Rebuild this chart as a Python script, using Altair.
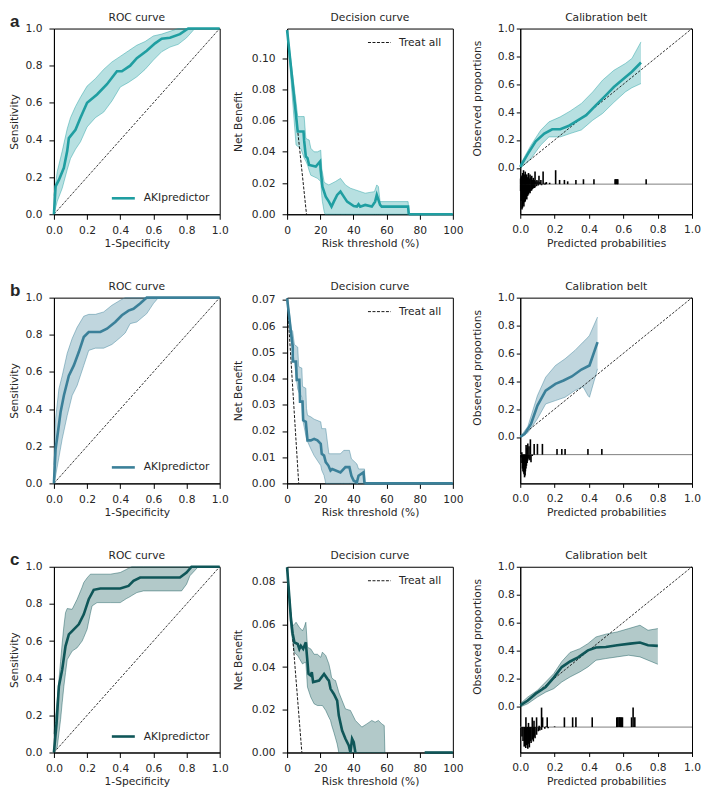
import altair as alt
import pandas as pd

FONT = "DejaVu Sans"
TXT = "#262626"
FS = 10.7

COLORS = {"a": "#1f9ea1", "b": "#3b8099", "c": "#0f5658"}

TICKS01 = [0, 0.2, 0.4, 0.6, 0.8, 1.0]
DCA_X_TICKS = [0, 20, 40, 60, 80, 100]

W_ROC, W_DCA, W_CAL, H = 166, 166, 172, 186

# ---------------- Row a ----------------
roc_a_x = [0, 0.01, 0.03, 0.06, 0.08, 0.09, 0.13, 0.16, 0.2, 0.26, 0.32, 0.38, 0.41, 0.46, 0.5, 0.56, 0.61, 0.65, 0.7, 0.76, 0.81, 1.0]
roc_a_y = [0, 0.15, 0.185, 0.25, 0.34, 0.41, 0.455, 0.52, 0.6, 0.645, 0.70, 0.77, 0.77, 0.80, 0.84, 0.88, 0.92, 0.945, 0.95, 0.97, 1.0, 1.0]
roc_a_bx = [0, 0.02, 0.05, 0.08, 0.1, 0.13, 0.16, 0.2, 0.25, 0.3, 0.35, 0.4, 0.45, 0.5, 0.55, 0.6, 0.65, 0.7, 0.75, 0.8, 0.85, 1.0]
roc_a_hi = [0.1, 0.23, 0.34, 0.46, 0.52, 0.58, 0.63, 0.69, 0.73, 0.78, 0.82, 0.85, 0.88, 0.91, 0.93, 0.96, 0.97, 0.985, 1.0, 1.0, 1.0, 1.0]
roc_a_lo = [0, 0.07, 0.14, 0.24, 0.30, 0.35, 0.39, 0.47, 0.52, 0.55, 0.61, 0.685, 0.71, 0.74, 0.78, 0.83, 0.875, 0.90, 0.915, 0.95, 1.0, 1.0]

dca_a_x = [0, 6.4, 9.9, 10.3, 11.3, 12.3, 13.3, 17.3, 19.9, 20.3, 21.3, 23.3, 25.2, 26.8, 28.2, 30.2, 32.2, 34.2, 36.2, 40.2, 42.1, 43.1, 44.1, 47.1, 51.1, 53.1, 54.1, 56.1, 57.1, 73.0, 73.4]
dca_a_y = [0.118, 0.053, 0.053, 0.047, 0.037, 0.036, 0.0316, 0.0306, 0.0338, 0.028, 0.0177, 0.0113, 0.0081, 0.0049, 0.0081, 0.0124, 0.0145, 0.0113, 0.0081, 0.0053, 0.0049, 0.0064, 0.0049, 0.006, 0.0049, 0.0081, 0.0124, 0.006, 0.0049, 0.0049, 0.0]
dca_a_tail_x = [73.4, 100]
dca_a_bx = [0, 5.4, 6.4, 8.3, 10.3, 11.3, 12.3, 13.3, 14.3, 16.3, 18.3, 20.3, 20.9, 21.3, 22.3, 22.9, 25.2, 29.2, 32.2, 35.2, 38.2, 47.1, 52.7, 54.1, 55.1, 56.1, 73.0, 73.6]
dca_a_hi = [0.118, 0.072, 0.0626, 0.0626, 0.0626, 0.0487, 0.048, 0.0476, 0.0423, 0.040, 0.040, 0.041, 0.0295, 0.027, 0.021, 0.020, 0.0188, 0.021, 0.023, 0.0188, 0.0167, 0.0135, 0.0145, 0.0188, 0.0177, 0.0081, 0.0081, 0.0]
dca_a_lo = [0.118, 0.0444, 0.0435, 0.042, 0.036, 0.034, 0.0316, 0.028, 0.025, 0.024, 0.023, 0.021, 0.012, 0.0081, 0.002, 0.0, 0.0, 0.0, 0.0, 0.0, 0.0, 0.0, 0.0, 0.0, 0.0, 0.0, 0.0, 0.0]
dca_a_treat_x = [0, 11.7]
dca_a_treat_y = [0.118, 0.0]
dca_a_ydom = [0, 0.119]
dca_a_yticks = [0, 0.02, 0.04, 0.06, 0.08, 0.10]

cal_a_x = [0, 0.044, 0.09, 0.14, 0.186, 0.233, 0.28, 0.337, 0.384, 0.441, 0.498, 0.545, 0.593, 0.65, 0.703]
cal_a_y = [0.007, 0.10, 0.19, 0.246, 0.277, 0.277, 0.30, 0.342, 0.378, 0.45, 0.52, 0.58, 0.63, 0.69, 0.756]
cal_a_bx = [0, 0.0625, 0.119, 0.167, 0.233, 0.29, 0.356, 0.422, 0.479, 0.545, 0.612, 0.65, 0.703]
cal_a_hi = [0.024, 0.163, 0.27, 0.33, 0.366, 0.407, 0.462, 0.545, 0.629, 0.70, 0.749, 0.785, 0.904]
cal_a_lo = [-0.005, 0.067, 0.163, 0.222, 0.222, 0.246, 0.272, 0.342, 0.39, 0.47, 0.545, 0.575, 0.605]
cal_a_base = -0.117
cal_a_hist_x = [0.002, 0.006, 0.0095, 0.014, 0.019, 0.024, 0.029, 0.033, 0.038, 0.043, 0.048, 0.052, 0.057, 0.062, 0.067, 0.071, 0.076, 0.081, 0.086, 0.091, 0.097, 0.103, 0.109, 0.115, 0.12, 0.133, 0.145, 0.152, 0.171, 0.206, 0.229, 0.257, 0.276, 0.324, 0.368, 0.429, 0.552, 0.556, 0.56, 0.564, 0.568, 0.733,
                0.002, 0.006, 0.01, 0.013, 0.017, 0.021, 0.025, 0.029, 0.033, 0.038, 0.043, 0.048, 0.052, 0.057, 0.062, 0.067, 0.071, 0.076, 0.081, 0.086, 0.095, 0.105, 0.124, 0.143]
cal_a_hist_h = [0.04, 0.05, 0.062, 0.08, 0.10, 0.07, 0.09, 0.06, 0.07, 0.05, 0.08, 0.04, 0.07, 0.05, 0.06, 0.03, 0.045, 0.03, 0.09, 0.02, 0.03, 0.02, 0.06, 0.015, 0.03, 0.09, 0.01, 0.015, 0.01, 0.10, 0.03, 0.03, 0.02, 0.03, 0.035, 0.035, 0.035, 0.035, 0.035, 0.035, 0.035, 0.035,
                -0.05, -0.12, -0.183, -0.17, -0.14, -0.16, -0.13, -0.125, -0.09, -0.11, -0.085, -0.075, -0.06, -0.065, -0.05, -0.045, -0.035, -0.03, -0.028, -0.025, -0.015, -0.01, -0.008, -0.005]

# ---------------- Row b ----------------
roc_b_x = [0, 0.01, 0.024, 0.04, 0.06, 0.09, 0.12, 0.15, 0.18, 0.21, 0.28, 0.32, 0.37, 0.41, 0.45, 0.48, 0.52, 0.56, 1.0]
roc_b_y = [0, 0.185, 0.275, 0.383, 0.473, 0.58, 0.635, 0.707, 0.788, 0.815, 0.815, 0.833, 0.869, 0.905, 0.93, 0.94, 0.968, 1.0, 1.0]
roc_b_bx = [0, 0.01, 0.03, 0.05, 0.08, 0.11, 0.14, 0.18, 0.21, 0.25, 0.30, 0.35, 0.40, 0.43, 0.46, 0.50, 0.56, 0.60, 0.63, 0.7, 1.0]
roc_b_hi = [0.1, 0.347, 0.509, 0.58, 0.70, 0.78, 0.84, 0.90, 0.91, 0.91, 0.923, 0.959, 0.986, 1.0, 1.0, 1.0, 1.0, 1.0, 1.0, 1.0, 1.0]
roc_b_lo = [0, 0.04, 0.14, 0.24, 0.365, 0.473, 0.527, 0.635, 0.716, 0.728, 0.728, 0.748, 0.785, 0.81, 0.86, 0.869, 0.914, 0.968, 1.0, 1.0, 1.0]

dca_b_x = [0, 2.4, 3.4, 3.4, 5.4, 5.8, 7.4, 7.8, 9.3, 9.7, 11.3, 12.3, 14.3, 16.3, 18.3, 20.3, 20.9, 22.3, 23.3, 24.9, 26.2, 27.2, 32.2, 35.2, 37.6, 38.8, 40.2, 42.1, 43.1, 46.1, 46.7]
dca_b_y = [0.0706, 0.0574, 0.0523, 0.0465, 0.0465, 0.0395, 0.0395, 0.0312, 0.0312, 0.0241, 0.0235, 0.0164, 0.0164, 0.017, 0.0164, 0.0151, 0.0113, 0.0106, 0.0081, 0.0068, 0.0049, 0.0055, 0.0042, 0.0062, 0.0062, 0.0029, 0.001, 0.0004, 0.0029, 0.0042, 0.0]
dca_b_tail_x = [46.7, 100]
dca_b_bx = [0, 1.4, 2.4, 3.4, 4.4, 5.4, 6.4, 7.0, 7.8, 8.9, 9.3, 11.3, 11.7, 12.3, 14.3, 16.3, 20.3, 20.9, 22.3, 23.3, 25.2, 32.2, 34.2, 37.6, 38.8, 42.1, 43.1, 46.7, 47.1]
dca_b_hi = [0.0706, 0.065, 0.059, 0.058, 0.053, 0.0525, 0.052, 0.0446, 0.0443, 0.044, 0.037, 0.0363, 0.0286, 0.026, 0.0254, 0.0245, 0.0235, 0.0209, 0.0209, 0.0209, 0.0113, 0.0113, 0.0126, 0.0126, 0.0094, 0.0074, 0.0055, 0.0055, 0.0]
dca_b_lo = [0.0706, 0.061, 0.054, 0.05, 0.0465, 0.041, 0.036, 0.035, 0.034, 0.033, 0.0247, 0.0183, 0.017, 0.016, 0.0132, 0.0106, 0.0068, 0.005, 0.003, 0.0, 0.0, 0.0, 0.0, 0.0, 0.0, 0.0, 0.0, 0.0, 0.0]
dca_b_treat_x = [0, 7.0]
dca_b_treat_y = [0.0706, 0.0]
dca_b_ydom = [0, 0.0709]
dca_b_yticks = [0, 0.01, 0.02, 0.03, 0.04, 0.05, 0.06, 0.07]

cal_b_x = [0, 0.025, 0.0625, 0.1, 0.148, 0.205, 0.252, 0.3, 0.356, 0.403, 0.45]
cal_b_y = [0, 0.02, 0.094, 0.225, 0.333, 0.381, 0.405, 0.434, 0.484, 0.513, 0.681]
cal_b_bx = [0, 0.044, 0.1, 0.148, 0.205, 0.261, 0.318, 0.366, 0.394, 0.403, 0.45]
cal_b_hi = [0, 0.075, 0.297, 0.429, 0.513, 0.561, 0.621, 0.681, 0.715, 0.729, 0.861]
cal_b_lo = [0, 0.03, 0.13, 0.237, 0.261, 0.285, 0.333, 0.36, 0.297, 0.285, 0.489]
cal_b_base = -0.127
cal_b_hist_x = [0.009, 0.034, 0.039, 0.044, 0.051, 0.059, 0.081, 0.1, 0.129, 0.214, 0.242, 0.261, 0.394, 0.475,
                0.005, 0.01, 0.013, 0.016, 0.019, 0.022, 0.025, 0.028, 0.03, 0.033, 0.036, 0.04, 0.044, 0.05, 0.056, 0.0625, 0.07]
cal_b_hist_h = [0.017, 0.07, 0.05, 0.08, 0.06, 0.11, 0.077, 0.077, 0.077, 0.04, 0.04, 0.04, 0.04, 0.04,
                -0.02, -0.06, -0.1, -0.12, -0.127, -0.14, -0.163, -0.15, -0.12, -0.1, -0.08, -0.06, -0.043, -0.03, -0.04, -0.055, -0.01]

# ---------------- Row c ----------------
roc_c_x = [0, 0.016, 0.03, 0.05, 0.07, 0.09, 0.12, 0.15, 0.18, 0.21, 0.24, 0.28, 0.40, 0.45, 0.48, 0.52, 0.76, 0.80, 0.83, 1.0]
roc_c_y = [0, 0.159, 0.357, 0.447, 0.573, 0.636, 0.663, 0.69, 0.744, 0.825, 0.876, 0.883, 0.883, 0.897, 0.924, 0.942, 0.942, 0.969, 1.0, 1.0]
roc_c_bx = [0, 0.02, 0.04, 0.05, 0.06, 0.07, 0.08, 0.11, 0.14, 0.17, 0.18, 0.20, 0.22, 0.23, 0.26, 0.34, 0.40, 0.44, 0.45, 0.47, 0.50, 0.54, 0.77, 0.80, 0.82, 0.85, 0.87, 1.0]
roc_c_hi = [0.1, 0.285, 0.49, 0.59, 0.68, 0.753, 0.775, 0.771, 0.825, 0.89, 0.915, 0.94, 0.96, 0.96, 0.96, 0.96, 0.969, 0.987, 0.992, 1.0, 1.0, 1.0, 1.0, 1.0, 1.0, 1.0, 1.0, 1.0]
roc_c_lo = [0, 0.03, 0.177, 0.27, 0.357, 0.43, 0.5, 0.546, 0.564, 0.6, 0.62, 0.663, 0.75, 0.789, 0.807, 0.807, 0.807, 0.83, 0.834, 0.845, 0.861, 0.87, 0.87, 0.906, 0.951, 0.98, 1.0, 1.0]

dca_c_x = [0, 2.4, 3.4, 4.4, 6.4, 7.4, 8.3, 9.7, 11.3, 11.9, 12.9, 14.3, 14.9, 15.7, 19.3, 22.3, 24.3, 25.2, 26.2, 28.2, 30.2, 31.2, 33.2, 35.2, 37.2, 38.2, 39.2, 40.2, 41.2]
dca_c_y = [0.0867, 0.0618, 0.0555, 0.0516, 0.0508, 0.0485, 0.05, 0.0485, 0.0516, 0.046, 0.0368, 0.036, 0.0376, 0.033, 0.0337, 0.0368, 0.0345, 0.0337, 0.0298, 0.0274, 0.0243, 0.0173, 0.0103, 0.0064, 0.0033, 0.0, 0.0064, 0.0048, 0.0]
dca_c_tail_x = [83, 100]
dca_c_bx = [0, 2.4, 3.4, 4.4, 5.4, 6.4, 7.4, 9.3, 10.3, 11.3, 12.3, 14.3, 16.3, 18.3, 20.3, 21.3, 23.3, 25.2, 26.2, 26.8, 28.2, 29.2, 30.2, 31.2, 33.2, 35.2, 38.2, 41.2, 45.1, 48.1, 51.1, 53.1, 55.1, 57.1, 58.6, 59]
dca_c_hi = [0.0867, 0.0649, 0.0594, 0.060, 0.061, 0.0598, 0.0586, 0.057, 0.0586, 0.061, 0.0493, 0.0485, 0.046, 0.046, 0.0446, 0.047, 0.0454, 0.0415, 0.038, 0.0352, 0.034, 0.0337, 0.031, 0.0282, 0.0243, 0.0204, 0.0197, 0.015, 0.0119, 0.0134, 0.015, 0.0142, 0.015, 0.0134, 0.0126, 0.0]
dca_c_lo = [0.0867, 0.057, 0.052, 0.047, 0.046, 0.0454, 0.044, 0.0415, 0.042, 0.0423, 0.0306, 0.0259, 0.0228, 0.022, 0.022, 0.022, 0.0197, 0.0165, 0.015, 0.013, 0.0095, 0.0068, 0.004, 0.0, 0.0, 0.0, 0.0, 0.0, 0.0, 0.0, 0.0, 0.0, 0.0, 0.0, 0.0, 0.0]
dca_c_treat_x = [0, 8.9]
dca_c_treat_y = [0.0867, 0.0]
dca_c_ydom = [0, 0.087]
dca_c_yticks = [0, 0.02, 0.04, 0.06, 0.08]

cal_c_x = [0, 0.044, 0.09, 0.148, 0.195, 0.242, 0.29, 0.337, 0.394, 0.441, 0.498, 0.564, 0.64, 0.697, 0.744, 0.801]
cal_c_y = [0.005, 0.04, 0.089, 0.137, 0.204, 0.28, 0.32, 0.35, 0.40, 0.42, 0.424, 0.436, 0.448, 0.456, 0.436, 0.432]
cal_c_bx = [0, 0.044, 0.1, 0.148, 0.195, 0.242, 0.29, 0.347, 0.394, 0.441, 0.498, 0.564, 0.631, 0.697, 0.744, 0.801]
cal_c_hi = [0.017, 0.065, 0.113, 0.173, 0.233, 0.32, 0.385, 0.412, 0.448, 0.496, 0.516, 0.532, 0.556, 0.58, 0.544, 0.556]
cal_c_lo = [-0.007, 0.017, 0.065, 0.10, 0.125, 0.173, 0.209, 0.245, 0.281, 0.329, 0.341, 0.353, 0.365, 0.353, 0.329, 0.30]
cal_c_base = -0.151
cal_c_hist_x = [0.033, 0.048, 0.07, 0.08, 0.095, 0.11, 0.124, 0.13, 0.15, 0.157, 0.2, 0.257, 0.305, 0.324, 0.419, 0.562, 0.568, 0.575, 0.58, 0.585, 0.59, 0.595, 0.648, 0.657, 0.667,
                0.01, 0.016, 0.023, 0.028, 0.032, 0.038, 0.044, 0.048, 0.053, 0.058, 0.063, 0.07, 0.076, 0.081, 0.086, 0.095, 0.105, 0.114, 0.124, 0.143, 0.162]
cal_c_hist_h = [0.07, 0.03, 0.07, 0.045, 0.07, 0.01, 0.14, 0.07, 0.005, 0.07, 0.005, 0.07, 0.07, 0.07, 0.07, 0.07, 0.07, 0.07, 0.07, 0.07, 0.07, 0.07, 0.07, 0.14, 0.07,
                -0.067, -0.1, -0.14, -0.12, -0.15, -0.13, -0.156, -0.12, -0.146, -0.1, -0.115, -0.09, -0.103, -0.07, -0.08, -0.055, -0.03, -0.025, -0.02, -0.012, -0.008]


def one():
    return pd.DataFrame({"k": [0]})


def label(txt, x, y, align="left", baseline="middle", size=FS, weight="normal", font=FONT):
    return alt.Chart(one()).mark_text(align=align, baseline=baseline, font=font, fontSize=size,
                                      fontWeight=weight, color=TXT).encode(
        x=alt.value(x), y=alt.value(y), text=alt.value(txt))


def legend_line(x1, x2, y, color, width, dash=None):
    kw = dict(color=color, strokeWidth=width)
    if dash:
        kw["strokeDash"] = dash
    return alt.Chart(one()).mark_rule(**kw).encode(x=alt.value(x1), x2=alt.value(x2), y=alt.value(y))


def xy(xdom, xvals, xfmt, xtitle, ydom, yvals, yfmt, ytitle, ytitle_x, ytitle_y=None, tick=5, ypad=7, xpad=6):
    xax = alt.Axis(title=xtitle, values=xvals, format=xfmt, tickSize=tick, labelPadding=xpad,
                   titleY=32, titleBaseline="alphabetic")
    ykw = dict(title=ytitle, values=yvals, format=yfmt, tickSize=tick, labelPadding=ypad, titleX=ytitle_x)
    if ytitle_y is not None:
        ykw["titleY"] = ytitle_y
    X = alt.X("x:Q", scale=alt.Scale(domain=xdom, nice=False, zero=False), axis=xax)
    Y = alt.Y("y:Q", scale=alt.Scale(domain=ydom, nice=False, zero=False), axis=alt.Axis(**ykw))
    return X, Y


def band_layers(X, Y, bx, lo, hi, color):
    df = pd.DataFrame({"x": bx, "y": lo, "y2": hi})
    area = alt.Chart(df).mark_area(color=color, opacity=0.32).encode(X, Y, y2="y2:Q")
    e_lo = alt.Chart(pd.DataFrame({"x": bx, "y": lo})).mark_line(color=color, opacity=0.45, strokeWidth=1).encode(X, Y)
    e_hi = alt.Chart(pd.DataFrame({"x": bx, "y": hi})).mark_line(color=color, opacity=0.45, strokeWidth=1).encode(X, Y)
    return [area, e_lo, e_hi]


def main_line(X, Y, xs, ys, color):
    df = pd.DataFrame({"x": xs, "y": ys, "o": list(range(len(xs)))})
    return alt.Chart(df).mark_line(color=color, strokeWidth=2.6).encode(X, Y, order="o:Q")


TITLE_Y = -7.5


def roc_panel(letter, color, lx, ly, bx, lo, hi):
    X, Y = xy([0, 1], TICKS01, ".1f", "1-Specificity", [0, 1], TICKS01, ".1f", "Sensitivity", -34)
    diag = alt.Chart(pd.DataFrame({"x": [0, 1], "y": [0, 1]})).mark_line(
        color="black", strokeWidth=0.8, strokeDash=[2.5, 1.5]).encode(X, Y)
    layers = band_layers(X, Y, bx, lo, hi, color) + [diag, main_line(X, Y, lx, ly, color),
        legend_line(58, 81, 170, color, 2.6), label("AKIpredictor", 90, 170),
        label("ROC curve", W_ROC / 2, TITLE_Y, align="center", baseline="alphabetic"),
        label(letter, -44, -2, baseline="alphabetic", size=17, weight="bold", font="Liberation Sans")]
    return alt.layer(*layers).properties(width=W_ROC, height=H)


def dca_panel(color, lx, ly, tail_x, bx, lo, hi, tx, ty, ydom, yticks):
    X, Y = xy([0, 100], DCA_X_TICKS, "d", "Risk threshold (%)", ydom, yticks, ".2f", "Net Benefit", -44)
    treat = alt.Chart(pd.DataFrame({"x": tx, "y": ty})).mark_line(
        color="black", strokeWidth=0.9, strokeDash=[3, 1.5]).encode(X, Y)
    tail = alt.Chart(pd.DataFrame({"x": tail_x, "y": [0, 0]})).mark_line(color=color, strokeWidth=2.6).encode(X, Y)
    layers = band_layers(X, Y, bx, lo, hi, color) + [treat, main_line(X, Y, lx, ly, color), tail,
        legend_line(81, 104, 14, "black", 0.9, [3, 1.5]), label("Treat all", 112, 14),
        label("Decision curve", W_DCA / 2, TITLE_Y, align="center", baseline="alphabetic")]
    return alt.layer(*layers).properties(width=W_DCA, height=H)


def cal_panel(color, lx, ly, bx, lo, hi, base, hx, hh):
    ydom = [-1 / 3, 1]
    title_y = H * (1 - 0.5) / (1 + 1 / 3)
    X, Y = xy([0, 1], TICKS01, ".1f", "Predicted probabilities", ydom, TICKS01, ".1f",
              "Observed proportions", -38, ytitle_y=title_y, tick=4, ypad=2)
    diag = alt.Chart(pd.DataFrame({"x": [0, 1], "y": [0, 1]})).mark_line(
        color="black", strokeWidth=0.8, strokeDash=[2.5, 1.5]).encode(X, Y)
    baseline = alt.Chart(pd.DataFrame({"x": [0, 1], "y": [base, base]})).mark_line(
        color="#808080", strokeWidth=1).encode(X, Y)
    hist = alt.Chart(pd.DataFrame({"x": hx, "y": [base] * len(hx), "y2": [base + h for h in hh]})).mark_rule(
        color="black", strokeWidth=1.6).encode(X, Y, y2="y2:Q")
    layers = band_layers(X, Y, bx, lo, hi, color) + [diag, main_line(X, Y, lx, ly, color), baseline, hist,
        label("Calibration belt", W_CAL / 2, TITLE_Y, align="center", baseline="alphabetic")]
    return alt.layer(*layers).properties(width=W_CAL, height=H)


panels = [
    roc_panel("a", COLORS["a"], roc_a_x, roc_a_y, roc_a_bx, roc_a_lo, roc_a_hi),
    dca_panel(COLORS["a"], dca_a_x, dca_a_y, dca_a_tail_x, dca_a_bx, dca_a_lo, dca_a_hi, dca_a_treat_x, dca_a_treat_y, dca_a_ydom, dca_a_yticks),
    cal_panel(COLORS["a"], cal_a_x, cal_a_y, cal_a_bx, cal_a_lo, cal_a_hi, cal_a_base, cal_a_hist_x, cal_a_hist_h),
    roc_panel("b", COLORS["b"], roc_b_x, roc_b_y, roc_b_bx, roc_b_lo, roc_b_hi),
    dca_panel(COLORS["b"], dca_b_x, dca_b_y, dca_b_tail_x, dca_b_bx, dca_b_lo, dca_b_hi, dca_b_treat_x, dca_b_treat_y, dca_b_ydom, dca_b_yticks),
    cal_panel(COLORS["b"], cal_b_x, cal_b_y, cal_b_bx, cal_b_lo, cal_b_hi, cal_b_base, cal_b_hist_x, cal_b_hist_h),
    roc_panel("c", COLORS["c"], roc_c_x, roc_c_y, roc_c_bx, roc_c_lo, roc_c_hi),
    dca_panel(COLORS["c"], dca_c_x, dca_c_y, dca_c_tail_x, dca_c_bx, dca_c_lo, dca_c_hi, dca_c_treat_x, dca_c_treat_y, dca_c_ydom, dca_c_yticks),
    cal_panel(COLORS["c"], cal_c_x, cal_c_y, cal_c_bx, cal_c_lo, cal_c_hi, cal_c_base, cal_c_hist_x, cal_c_hist_h),
]

chart = alt.concat(*panels, columns=3, spacing={"row": 83.5, "column": 67.5}, bounds="flush", align="each").properties(
    padding={"left": 0, "top": 3, "right": 0, "bottom": 0}
).configure_view(
    stroke="black", strokeWidth=1
).configure_axis(
    labelFont=FONT, labelFontSize=FS, labelColor=TXT,
    titleFont=FONT, titleFontSize=FS, titleFontWeight="normal", titleColor=TXT,
    domainColor="black", domainWidth=1, tickColor="black", tickWidth=1,
    grid=False, labelFlush=False, labelOverlap=False
)

chart.save("out.html", embed_options={"renderer": "svg", "actions": False})
